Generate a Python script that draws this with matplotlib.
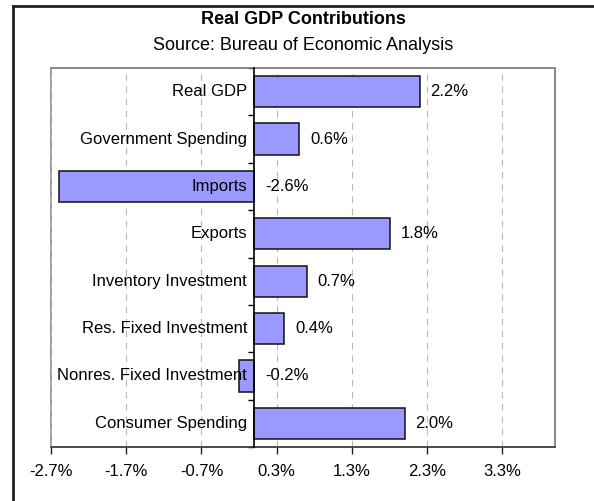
import matplotlib
matplotlib.use("Agg")
import matplotlib.pyplot as plt
import matplotlib.transforms as mtransforms
from matplotlib.patches import Rectangle
import numpy as np

plt.rcParams['font.family'] = ['Liberation Sans', 'DejaVu Sans']

categories = ["Real GDP", "Government Spending", "Imports", "Exports",
              "Inventory Investment", "Res. Fixed Investment",
              "Nonres. Fixed Investment", "Consumer Spending"]
values = [2.2, 0.6, -2.6, 1.8, 0.7, 0.4, -0.2, 2.0]
xticks = [-2.7, -1.7, -0.7, 0.3, 1.3, 2.3, 3.3]
title = "Real GDP Contributions"
subtitle = "Source: Bureau of Economic Analysis"

fig = plt.figure(figsize=(5.94, 5.01), dpi=100)
ax = fig.add_axes([51/594, 54/501, (555-51)/594, (447-68)/501])

n = len(categories)
ypos = np.arange(n)
ax.barh(ypos, values, height=0.66, color="#9999FF", edgecolor="#111111",
        linewidth=1.1, zorder=2)
ax.set_ylim(n - 0.5, -0.5)
ax.set_xlim(-2.7, 4.0)

ax.set_axisbelow(True)
ax.xaxis.grid(True, color="#B8B8B8", linestyle=(0, (6, 5)), linewidth=0.8)
ax.set_xticks(xticks)
ax.set_xticklabels([f"{v:.1f}%" for v in xticks], fontsize=12)
ax.tick_params(axis="x", direction="out", length=5, width=1, color="#202020", pad=7)

ax.spines["left"].set_position(("data", 0))
ax.spines["left"].set_color("black")
ax.spines["left"].set_linewidth(1.2)
ax.spines["left"].set_zorder(3)
ax.set_yticks([])
ax.set_yticks(np.arange(n + 1) - 0.5, minor=True)
ax.tick_params(axis="y", which="minor", direction="out", length=4, width=1, color="black")
for s in ["top", "right"]:
    ax.spines[s].set_color("#888888")
    ax.spines[s].set_linewidth(1.2)
ax.spines["bottom"].set_color("#404040")
ax.spines["bottom"].set_linewidth(1.2)
ax.add_patch(Rectangle((0, 0), 1, 1, transform=ax.transAxes, fill=False,
                       edgecolor="#888888", linewidth=1.2, zorder=0.4, clip_on=False))

lab_off = mtransforms.offset_copy(ax.transData, fig=fig, x=-7, y=0, units="dots")
val_off = mtransforms.offset_copy(ax.transData, fig=fig, x=11, y=0, units="dots")
for y, c, v in zip(ypos, categories, values):
    ax.text(0, y, c, transform=lab_off, ha="right", va="center", fontsize=12, zorder=5)
    ax.text(max(v, 0), y, f"{v:.1f}%", transform=val_off, ha="left", va="center",
            fontsize=12, zorder=5)

fig.text(0.5 * (13 + 594) / 594, 1 - 19/501, title, ha="center", va="center",
         fontsize=13, fontweight="bold")
fig.text(0.5 * (13 + 594) / 594, 1 - 46/501, subtitle, ha="center", va="center",
         fontsize=13)

# outer frame (left and top edges visible)
fig.add_artist(plt.Line2D([13/594, 13/594], [0, 1 - 6/501], transform=fig.transFigure,
                          color="#202020", linewidth=2))
fig.add_artist(plt.Line2D([13/594, 1], [1 - 6/501, 1 - 6/501], transform=fig.transFigure,
                          color="#202020", linewidth=2))

fig.savefig("out.png", dpi=100)
